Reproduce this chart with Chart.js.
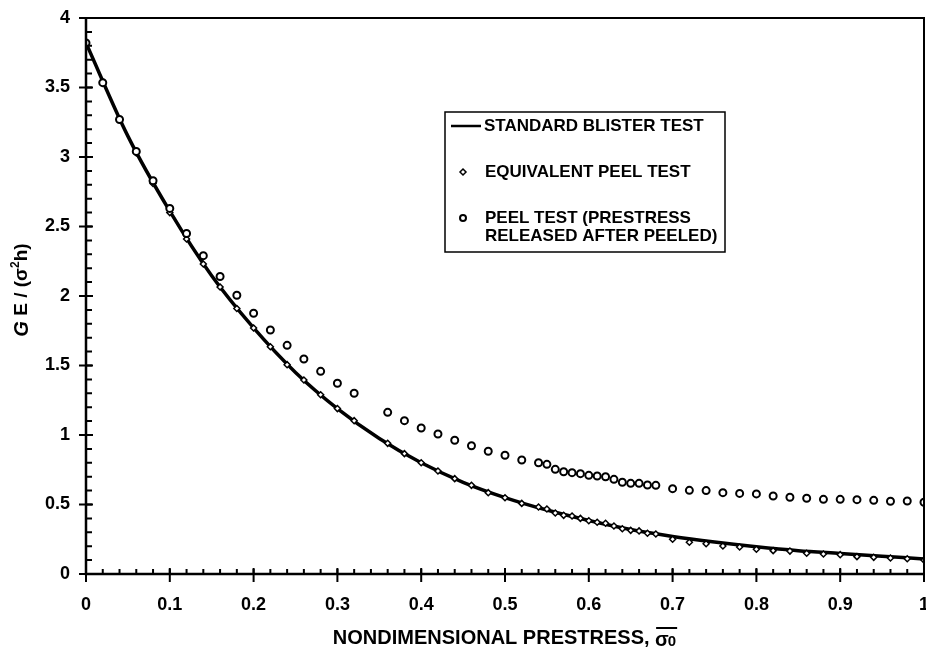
<!DOCTYPE html>
<html>
<head>
<meta charset="utf-8">
<script src="https://cdn.jsdelivr.net/npm/chart.js@4.4.1/dist/chart.umd.min.js"></script>
<style>
    html, body { margin: 0; padding: 0; background: #fff; }
    #wrap { width: 926px; height: 653px; }
</style>
</head>
<body>
<div id="wrap"><canvas id="chart" width="926" height="653"></canvas></div>
<script>
// solid curve (standard blister test)
const xStandard = [0, 0.05, 0.1, 0.15, 0.2, 0.25, 0.3, 0.35, 0.4, 0.45, 0.5,
    0.55, 0.6, 0.65, 0.7, 0.75, 0.8, 0.85, 0.9, 0.95, 1];
const yStandard = [3.82, 3.15, 2.61, 2.145, 1.77, 1.45, 1.19, 0.975, 0.8, 0.66, 0.55,
    0.46, 0.385, 0.32, 0.27, 0.23, 0.196, 0.168, 0.148, 0.128, 0.108];

// marker positions shared by both peel series
const xPeel = [0, 0.02, 0.04, 0.06, 0.08, 0.1, 0.12, 0.14, 0.16, 0.18, 0.2, 0.22, 0.24, 0.26, 0.28, 0.3, 0.32,
    0.36, 0.38, 0.4, 0.42, 0.44, 0.46, 0.48, 0.5, 0.52, 0.54,
    0.55, 0.56, 0.57, 0.58, 0.59, 0.6, 0.61, 0.62, 0.63, 0.64, 0.65, 0.66, 0.67, 0.68,
    0.7, 0.72, 0.74, 0.76, 0.78, 0.8, 0.82, 0.84, 0.86, 0.88, 0.9, 0.92, 0.94, 0.96, 0.98, 1];
const yEquivalentPeel = [3.82, 3.54, 3.27, 3.03, 2.81, 2.6, 2.41, 2.23, 2.065, 1.91, 1.77, 1.635, 1.506, 1.396, 1.29, 1.19, 1.103,
    0.94, 0.866, 0.8, 0.741, 0.686, 0.638, 0.585, 0.549, 0.508, 0.482,
    0.468, 0.439, 0.422, 0.417, 0.4, 0.383, 0.372, 0.365, 0.345, 0.326, 0.314, 0.31, 0.293, 0.288,
    0.25, 0.228, 0.218, 0.201, 0.194, 0.178, 0.168, 0.165, 0.149, 0.144, 0.139, 0.125, 0.12, 0.115, 0.11, 0.1];
const yPeelReleased = [3.82, 3.535, 3.27, 3.04, 2.83, 2.63, 2.45, 2.29, 2.14, 2.005, 1.876, 1.755, 1.645, 1.547, 1.458, 1.372, 1.3,
    1.163, 1.103, 1.05, 1.007, 0.962, 0.923, 0.883, 0.854, 0.82, 0.8,
    0.789, 0.753, 0.736, 0.729, 0.722, 0.71, 0.705, 0.7, 0.681, 0.66, 0.652, 0.652, 0.64, 0.638,
    0.614, 0.602, 0.6, 0.585, 0.58, 0.576, 0.561, 0.552, 0.545, 0.537, 0.537, 0.535, 0.53, 0.523, 0.525, 0.516];

const xTickLabels = ['0', '0.1', '0.2', '0.3', '0.4', '0.5', '0.6', '0.7', '0.8', '0.9', '1'];
const yTickLabels = ['0', '0.5', '1', '1.5', '2', '2.5', '3', '3.5', '4'];

const legendLines = ['STANDARD BLISTER TEST', 'EQUIVALENT PEEL TEST', 'PEEL TEST (PRESTRESS', 'RELEASED AFTER PEELED)'];

const FONT = '"Liberation Sans", Arial, sans-serif';

function toPoints(xs, ys) {
    return xs.map((x, i) => ({ x: x, y: ys[i] }));
}

// draws runs of [text, font, dy] one after another, centred on x = 0
function drawRuns(ctx, runs) {
    const widths = runs.map(r => { ctx.font = r[1]; return ctx.measureText(r[0]).width; });
    let x = -widths.reduce((a, b) => a + b, 0) / 2;
    runs.forEach((r, i) => {
        ctx.font = r[1];
        ctx.fillText(r[0], x, r[2]);
        x += widths[i];
    });
}

// ticks, frame, titles and legend box
const decorations = {
    id: 'decorations',
    afterDraw(chart) {
        const ctx = chart.ctx;
        const area = chart.chartArea;
        const xs = chart.scales.x;
        const ys = chart.scales.y;
        ctx.save();
        ctx.strokeStyle = '#000';
        ctx.fillStyle = '#000';

        // frame
        ctx.lineWidth = 2;
        ctx.beginPath();
        ctx.moveTo(area.left, area.top);
        ctx.lineTo(area.right, area.top);
        ctx.lineTo(area.right, area.bottom);
        ctx.stroke();
        ctx.lineWidth = 2.5;
        ctx.beginPath();
        ctx.moveTo(area.left, area.top);
        ctx.lineTo(area.left, area.bottom);
        ctx.lineTo(area.right, area.bottom);
        ctx.stroke();

        // minor ticks (inside)
        ctx.lineWidth = 2;
        ctx.beginPath();
        for (let i = 0; i <= 50; i++) {
            const px = xs.getPixelForValue(i * 0.02);
            ctx.moveTo(px, area.bottom);
            ctx.lineTo(px, area.bottom - 5);
        }
        for (let i = 0; i <= 40; i++) {
            const py = ys.getPixelForValue(i * 0.1);
            ctx.moveTo(area.left, py);
            ctx.lineTo(area.left + 6, py);
        }
        ctx.stroke();

        // major ticks (crossing)
        ctx.beginPath();
        xTickLabels.forEach(l => {
            const px = xs.getPixelForValue(parseFloat(l));
            ctx.moveTo(px, area.bottom - 6);
            ctx.lineTo(px, area.bottom + 8);
        });
        yTickLabels.forEach(l => {
            const py = ys.getPixelForValue(parseFloat(l));
            ctx.moveTo(area.left - 7, py);
            ctx.lineTo(area.left + 7, py);
        });
        ctx.stroke();

        // x title
        ctx.font = 'bold 20px ' + FONT;
        ctx.textBaseline = 'middle';
        const main = 'NONDIMENSIONAL PRESTRESS, ';
        const wMain = ctx.measureText(main).width;
        const wSig = ctx.measureText('σ').width;
        ctx.font = 'bold 15px ' + FONT;
        const wZero = ctx.measureText('0').width;
        const total = wMain + wSig + wZero;
        let tx = (area.left + area.right) / 2 - total / 2;
        const ty = 638;
        ctx.textAlign = 'left';
        ctx.font = 'bold 20px ' + FONT;
        ctx.fillText(main, tx, ty);
        ctx.fillText('σ', tx + wMain, ty + 2);
        ctx.font = 'bold 15px ' + FONT;
        ctx.fillText('0', tx + wMain + wSig - 1, ty + 4);
        ctx.lineWidth = 2;
        ctx.beginPath();
        ctx.moveTo(tx + wMain + 1, ty - 10);
        ctx.lineTo(tx + wMain + wSig + wZero, ty - 10);
        ctx.stroke();

        // y title
        ctx.save();
        ctx.translate(22, (area.top + area.bottom) / 2 - 6);
        ctx.rotate(-Math.PI / 2);
        ctx.textAlign = 'left';
        drawRuns(ctx, [
            ['G', 'italic bold 20px ' + FONT, 0],
            [' E / (σ', 'bold 19px ' + FONT, 0],
            ['2', 'bold 12px ' + FONT, -6],
            ['h)', 'bold 19px ' + FONT, 0]
        ]);
        ctx.restore();

        // legend
        const bx = 445, by = 112, bw = 280, bh = 140;
        ctx.fillStyle = '#fff';
        ctx.fillRect(bx, by, bw, bh);
        ctx.fillStyle = '#000';
        ctx.lineWidth = 1.5;
        ctx.strokeRect(bx, by, bw, bh);
        ctx.lineWidth = 2.5;
        ctx.beginPath();
        ctx.moveTo(451, 126);
        ctx.lineTo(481, 126);
        ctx.stroke();
        ctx.lineWidth = 1.5;
        ctx.fillStyle = '#fff';
        ctx.beginPath();
        ctx.moveTo(463, 169);
        ctx.lineTo(466, 172);
        ctx.lineTo(463, 175);
        ctx.lineTo(460, 172);
        ctx.closePath();
        ctx.fill();
        ctx.stroke();
        ctx.lineWidth = 2;
        ctx.beginPath();
        ctx.arc(463, 218, 3, 0, Math.PI * 2);
        ctx.fill();
        ctx.stroke();
        ctx.fillStyle = '#000';
        ctx.font = 'bold 17px ' + FONT;
        ctx.textAlign = 'left';
        ctx.fillText(legendLines[0], 484, 126);
        ctx.fillText(legendLines[1], 485, 172);
        ctx.fillText(legendLines[2], 485, 218);
        ctx.fillText(legendLines[3], 485, 236);
        ctx.restore();
    }
};

new Chart(document.getElementById('chart').getContext('2d'), {
    type: 'scatter',
    data: {
        datasets: [{
            label: legendLines[0],
            type: 'line',
            data: toPoints(xStandard, yStandard),
            borderColor: '#000',
            borderWidth: 3.5,
            pointRadius: 0,
            cubicInterpolationMode: 'monotone',
            order: 3
        }, {
            label: legendLines[1],
            data: toPoints(xPeel, yEquivalentPeel),
            pointStyle: 'rectRot',
            pointRadius: 3,
            borderColor: '#000',
            backgroundColor: '#fff',
            borderWidth: 1.5,
            order: 2
        }, {
            label: legendLines[2] + ' ' + legendLines[3],
            data: toPoints(xPeel, yPeelReleased),
            pointStyle: 'circle',
            pointRadius: 3.5,
            borderColor: '#000',
            backgroundColor: '#fff',
            borderWidth: 2,
            order: 1
        }]
    },
    options: {
        responsive: false,
        animation: false,
        devicePixelRatio: 1,
        layout: { autoPadding: false, padding: { top: 18, right: 2, left: 0, bottom: 0 } },
        plugins: {
            legend: { display: false },
            tooltip: { enabled: false }
        },
        scales: {
            x: {
                type: 'linear',
                min: 0,
                max: 1,
                afterFit: s => { s.height = 79; s.paddingLeft = 0; s.paddingRight = 0; },
                afterBuildTicks: s => { s.ticks = xTickLabels.map(l => ({ value: parseFloat(l) })); },
                grid: { display: false, drawTicks: false },
                border: { display: false },
                ticks: {
                    padding: 20,
                    color: '#000',
                    font: { family: FONT, size: 18, weight: 'bold' },
                    callback: (v, i) => xTickLabels[i]
                }
            },
            y: {
                type: 'linear',
                min: 0,
                max: 4,
                afterFit: s => { s.width = 86; s.paddingTop = 0; s.paddingBottom = 0; },
                afterBuildTicks: s => { s.ticks = yTickLabels.map(l => ({ value: parseFloat(l) })); },
                grid: { display: false, drawTicks: false },
                border: { display: false },
                ticks: {
                    padding: 16,
                    color: '#000',
                    font: { family: FONT, size: 18, weight: 'bold' },
                    callback: (v, i) => yTickLabels[i]
                }
            }
        }
    },
    plugins: [decorations]
});
</script>
</body>
</html>
